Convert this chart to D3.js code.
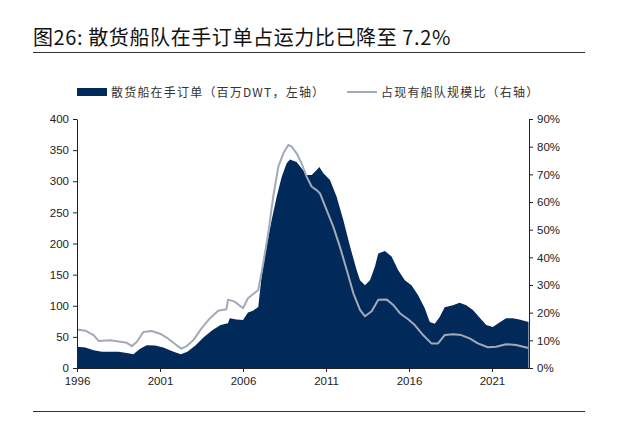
<!DOCTYPE html>
<html>
<head>
<meta charset="utf-8">
<script src="https://cdn.jsdelivr.net/npm/d3@7"></script>
<style>
  body { margin: 0; background: #fff; }
  svg { display: block; }
</style>
</head>
<body>
<svg id="chart" width="618" height="427"></svg>
<script>
// 在手订单（百万DWT），按日期读取
var obDates = [1996.0, 1996.5, 1997.0, 1997.5, 1998.0, 1998.5, 1999.0, 1999.4, 1999.8, 2000.2,
  2000.7, 2001.2, 2001.7, 2002.25, 2002.65, 2003.15, 2003.65, 2004.15, 2004.65, 2005.1,
  2005.2, 2005.6, 2006.0, 2006.3, 2006.6, 2006.92, 2007.12, 2007.42, 2007.73, 2008.03,
  2008.33, 2008.63, 2008.83, 2009.23, 2009.53, 2009.84, 2010.14, 2010.44, 2010.6, 2010.84,
  2011.24, 2011.64, 2012.04, 2012.45, 2012.85, 2013.05, 2013.35, 2013.65, 2013.95, 2014.15,
  2014.55, 2014.95, 2015.35, 2015.75, 2016.15, 2016.55, 2016.95, 2017.25, 2017.55, 2017.85,
  2018.15, 2018.65, 2019.05, 2019.45, 2019.85, 2020.25, 2020.65, 2021.05, 2021.45, 2021.85,
  2022.25, 2022.65, 2023.2];
var orderbook = [34, 33, 28.5, 26, 26, 26, 24, 22, 31, 36.5,
  36, 33, 27.4, 22, 26, 36.5, 50, 60.8, 69, 72,
  80, 78, 77, 89, 92, 98, 147, 195, 238, 275,
  307, 329, 335, 331, 321, 310, 310, 318, 323, 313,
  302, 275, 238, 195, 157, 141, 133, 141, 163, 184,
  188, 179, 157, 141, 133, 117, 96, 74, 71, 82,
  97.5, 101, 105, 101, 93, 81, 69, 66, 73, 80,
  80, 78, 74];

// 占现有船队规模比（%）
var shareDates = [1996.0, 1996.5, 1997.0, 1997.3, 1998.0, 1998.5, 1999.0, 1999.3, 1999.6, 2000.0,
  2000.5, 2001.0, 2001.5, 2002.0, 2002.3, 2002.6, 2003.0, 2003.5, 2004.0, 2004.5,
  2005.0, 2005.1, 2005.5, 2006.0, 2006.3, 2006.92, 2007.22, 2007.52, 2007.82, 2008.13,
  2008.43, 2008.73, 2008.93, 2009.23, 2009.53, 2009.84, 2010.14, 2010.44, 2010.64, 2011.04,
  2011.44, 2011.84, 2012.25, 2012.65, 2013.05, 2013.35, 2013.75, 2014.15, 2014.65, 2015.05,
  2015.45, 2015.95, 2016.35, 2016.85, 2017.35, 2017.75, 2018.15, 2018.65, 2019.15, 2019.65,
  2020.15, 2020.75, 2021.25, 2021.85, 2022.45, 2023.2];
var fleetShare = [13.9, 13.5, 11.9, 9.8, 10, 9.6, 9.1, 7.9, 9.4, 13,
  13.4, 12.4, 10.6, 8.2, 7, 7.9, 10, 14.3, 17.9, 20.7,
  21.2, 24.7, 24, 21.6, 25.2, 28.2, 37.8, 48.7, 61.9, 72.8,
  77.6, 80.6, 80, 77.6, 74, 69.1, 65.5, 64.3, 63.1, 57.1,
  51.1, 43.8, 35.4, 27, 21, 18.7, 20.5, 24.7, 24.8, 22.8,
  19.8, 17.6, 15.5, 11.9, 8.9, 8.9, 11.9, 12.2, 11.9, 10.7,
  8.9, 7.5, 7.7, 8.6, 8.3, 7.2];

var yearTicks = [1996, 2001, 2006, 2011, 2016, 2021];
var leftTicks = [0, 50, 100, 150, 200, 250, 300, 350, 400];
var rightTicks = [0, 10, 20, 30, 40, 50, 60, 70, 80, 90];

var titleText = "图26: 散货船队在手订单占运力比已降至 7.2%";
var legendLabels = ["散货船在手订单（百万DWT，左轴）", "占现有船队规模比（右轴）"];

var navy = "#012a5a";
var grey = "#a2aab6";
var cjk = "'Noto Sans CJK SC', sans-serif";
var latin = "'Liberation Sans', Arial, sans-serif";

var svg = d3.select("#chart");

// 标题和分隔线
svg.append("text")
    .attr("x", 33)
    .attr("y", 45)
    .attr("font-family", cjk)
    .attr("font-size", 20)
    .attr("letter-spacing", 0.6)
    .attr("fill", "#111")
    .text(titleText);

svg.append("line")
    .attr("x1", 33).attr("x2", 585)
    .attr("y1", 52.5).attr("y2", 52.5)
    .attr("stroke", "#333").attr("stroke-width", 1.2);

svg.append("line")
    .attr("x1", 33).attr("x2", 585)
    .attr("y1", 411.5).attr("y2", 411.5)
    .attr("stroke", "#333").attr("stroke-width", 1.2);

// 比例尺
var x = d3.scaleLinear().domain([1996, 2023.23]).range([77, 529]);
var yL = d3.scaleLinear().domain([0, 400]).range([368, 119]);
var yR = d3.scaleLinear().domain([0, 90]).range([368, 119]);

var obData = obDates.map((d, i) => ({ t: d, v: orderbook[i] }));
var shData = shareDates.map((d, i) => ({ t: d, v: fleetShare[i] }));

// 面积图
svg.append("path")
    .datum(obData)
    .attr("fill", navy)
    .attr("d", d3.area().x(d => x(d.t)).y0(yL(0)).y1(d => yL(d.v)));

// 比例折线
svg.append("path")
    .datum(shData)
    .attr("fill", "none")
    .attr("stroke", grey)
    .attr("stroke-width", 2)
    .attr("stroke-linejoin", "round")
    .attr("d", d3.line().x(d => x(d.t)).y(d => yR(d.v)));

// 坐标轴
var axisStyle = function(g) {
    g.selectAll("path").attr("stroke", "#222");
    g.selectAll("line").attr("stroke", "#222");
    g.selectAll("text")
        .attr("font-family", latin)
        .attr("font-size", 11.5)
        .attr("fill", "#222");
};

svg.append("g")
    .attr("transform", "translate(77,0)")
    .call(d3.axisLeft(yL).tickValues(leftTicks).tickSize(4).tickSizeOuter(0).tickPadding(4))
    .call(axisStyle);

svg.append("g")
    .attr("transform", "translate(529,0)")
    .call(d3.axisRight(yR).tickValues(rightTicks).tickSize(4).tickSizeOuter(0).tickPadding(4)
        .tickFormat(d => d + "%"))
    .call(axisStyle);

svg.append("g")
    .attr("transform", "translate(0,368)")
    .call(d3.axisBottom(x).tickValues(yearTicks).tickSize(4).tickSizeOuter(0).tickPadding(5)
        .tickFormat(d3.format("d")))
    .call(axisStyle);

// 图例
var legend = svg.append("g")
    .attr("font-family", cjk)
    .attr("font-size", 12)
    .attr("letter-spacing", 1.2)
    .attr("fill", "#333");

legend.append("rect")
    .attr("x", 77).attr("y", 88).attr("width", 30).attr("height", 8)
    .attr("fill", navy);
legend.append("text")
    .attr("x", 111).attr("y", 96.5)
    .text(legendLabels[0]);

legend.append("line")
    .attr("x1", 347).attr("x2", 377)
    .attr("y1", 92).attr("y2", 92)
    .attr("stroke", grey).attr("stroke-width", 2);
legend.append("text")
    .attr("x", 381).attr("y", 96.5)
    .text(legendLabels[1]);
</script>
</body>
</html>
